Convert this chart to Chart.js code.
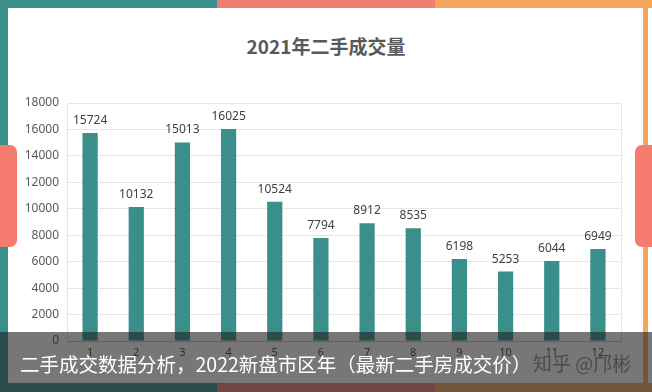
<!DOCTYPE html>
<html>
<head>
<meta charset="utf-8">
<script src="https://cdn.jsdelivr.net/npm/chart.js@4"></script>
<style>
  html, body { margin: 0; padding: 0; background: #fff; }
  #wrap { position: relative; width: 652px; height: 392px; overflow: hidden; background: #fff; }
  .bar { position: absolute; }
  #chart_box { position: absolute; left: 0; top: 0; width: 652px; height: 392px; }
  #title {
    position: absolute; left: 0; right: 0; top: 32px; text-align: center;
    font: bold 19px "Noto Sans CJK SC", "Noto Sans", sans-serif; color: #595959;
  }
  #overlay {
    position: absolute; left: 0; top: 332px; width: 652px; height: 60px;
    background: rgba(35, 35, 35, 0.62);
  }
  #caption {
    position: absolute; left: 20px; top: 349px; color: #fff;
    font: 19.5px "Noto Sans CJK SC", sans-serif; white-space: nowrap;
  }
  #mark {
    position: absolute; left: 533px; top: 349px; color: rgba(55, 55, 55, 0.7);
    font: 19px "Noto Sans CJK SC", sans-serif; white-space: nowrap;
  }
</style>
</head>
<body>
<div id="wrap">
  <!-- frame -->
  <div class="bar" style="left:0;top:0;width:217px;height:8px;background:#3a8f8b"></div>
  <div class="bar" style="left:217px;top:0;width:218px;height:8px;background:#f07f73"></div>
  <div class="bar" style="left:435px;top:0;width:217px;height:8px;background:#f4a55e"></div>
  <div class="bar" style="left:0;top:0;width:8px;height:392px;background:#3a8f8b"></div>
  <div class="bar" style="left:643px;top:0;width:5px;height:392px;background:#f4a55e"></div>
  <div class="bar" style="left:0;top:383px;width:217px;height:9px;background:#3a8f8b"></div>
  <div class="bar" style="left:217px;top:383px;width:218px;height:9px;background:#f07f73"></div>
  <div class="bar" style="left:435px;top:383px;width:217px;height:9px;background:#f4a55e"></div>
  <div class="bar" style="left:0;top:145px;width:17px;height:102px;background:#f47b6e;border-radius:0 7px 7px 0"></div>
  <div class="bar" style="left:635px;top:145px;width:20px;height:102px;background:#f47b6e;border-radius:7px 0 0 7px"></div>

  <div id="title">2021年二手成交量</div>
  <div id="chart_box"><canvas id="bar_chart"></canvas></div>

  <div id="overlay"></div>
  <div id="caption">二手成交数据分析，2022新盘市区年（最新二手房成交价）</div>
  <div id="mark">知乎 @邝彬</div>
</div>

<script>
const months = ["1", "2", "3", "4", "5", "6", "7", "8", "9", "10", "11", "12"];
const volumes = [15724, 10132, 15013, 16025, 10524, 7794, 8912, 8535, 6198, 5253, 6044, 6949];
const yTicks = [0, 2000, 4000, 6000, 8000, 10000, 12000, 14000, 16000, 18000];

const ctx = document.getElementById("bar_chart");

// values above bars + right edge of plot area
const barLabels = {
  id: "barLabels",
  beforeDatasetsDraw(chart) {
    const { ctx, chartArea } = chart;
    ctx.save();
    ctx.strokeStyle = "#e6e6e6";
    ctx.lineWidth = 1;
    ctx.beginPath();
    ctx.moveTo(Math.round(chartArea.right) + 0.5, chartArea.top);
    ctx.lineTo(Math.round(chartArea.right) + 0.5, chartArea.bottom);
    ctx.stroke();
    ctx.restore();
  },
  afterDatasetsDraw(chart) {
    const { ctx } = chart;
    const meta = chart.getDatasetMeta(0);
    ctx.save();
    ctx.font = '12px "Noto Sans", sans-serif';
    ctx.fillStyle = "#404040";
    ctx.textAlign = "center";
    ctx.textBaseline = "alphabetic";
    meta.data.forEach((bar, i) => {
      ctx.fillText(String(volumes[i]), bar.x, bar.y - 9);
    });
    ctx.restore();
  },
};

const bar_chart = new Chart(ctx, {
  type: "bar",
  data: {
    labels: months,
    datasets: [
      {
        data: volumes,
        backgroundColor: "#3a8f8b",
        borderWidth: 0,
        barPercentage: 0.33,
        categoryPercentage: 1,
      },
    ],
  },
  options: {
    responsive: true,
    maintainAspectRatio: false,
    animation: false,
    layout: { padding: { left: 10, right: 31, top: 103, bottom: 0 } },
    plugins: {
      legend: { display: false },
      title: { display: false },
      tooltip: { enabled: false },
    },
    scales: {
      x: {
        grid: { display: false, drawTicks: false },
        border: { display: true, color: "#bfbfbf" },
        ticks: {
          padding: 5,
          color: "#404040",
          font: { family: "Noto Sans", size: 11 },
        },
        afterFit: (s) => { s.height = 51; },
      },
      y: {
        min: 0,
        max: 18000,
        afterBuildTicks: (s) => { s.ticks = yTicks.map((v) => ({ value: v })); },
        grid: { color: "#e6e6e6", drawTicks: false },
        border: { display: true, color: "#e6e6e6" },
        ticks: {
          padding: 8,
          color: "#595959",
          font: { family: "Noto Sans", size: 12 },
          callback: (v) => String(v),
        },
        afterFit: (s) => { s.width = 57; },
      },
    },
  },
  plugins: [barLabels],
});
</script>
</body>
</html>
